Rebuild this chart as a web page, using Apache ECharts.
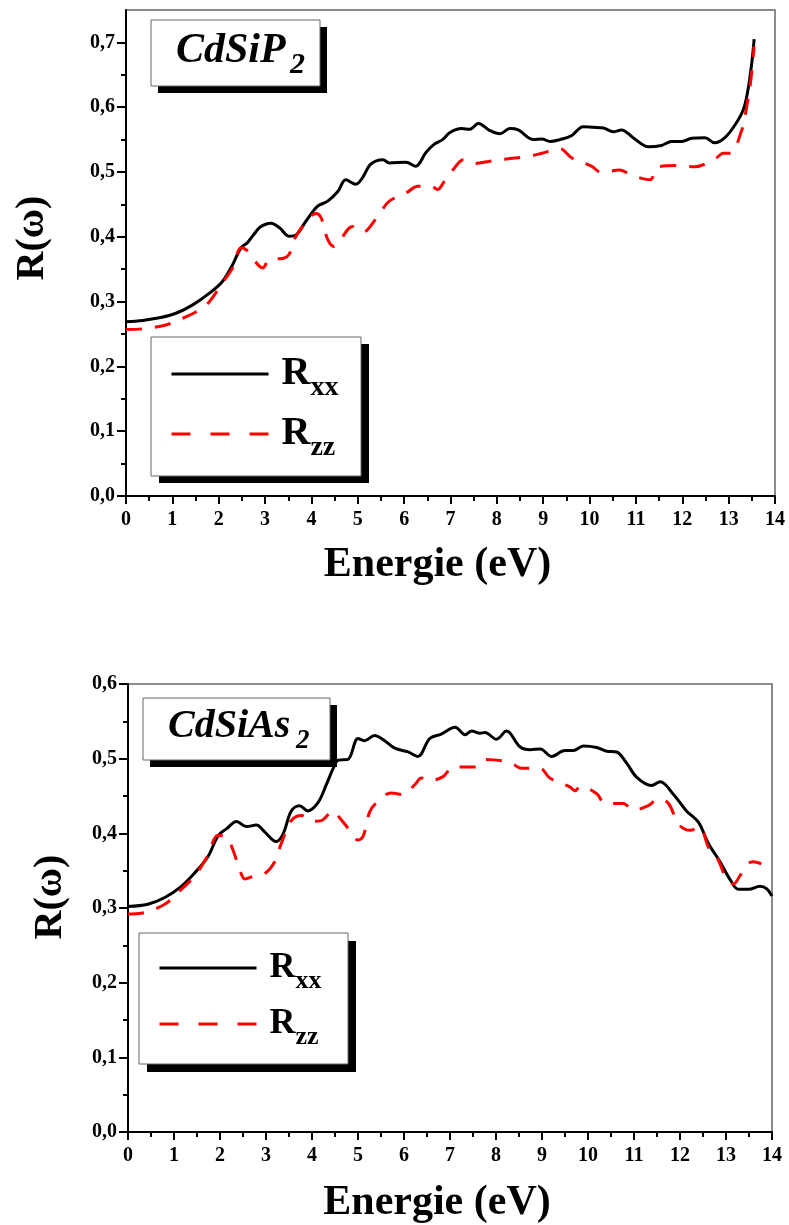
<!DOCTYPE html>
<html>
<head>
<meta charset="utf-8">
<script src="https://cdn.jsdelivr.net/npm/echarts@6/dist/echarts.min.js"></script>
<style>html,body{margin:0;padding:0;background:#fff}#c{width:789px;height:1225px}</style>
</head>
<body>
<div id="c"></div>
<script>
// ---- CdSiP2 ----
const energyP_xx = [0, 0.36, 0.72, 1.08, 1.44, 1.80, 2.08, 2.30, 2.48, 2.62, 2.75, 2.88, 3.0, 3.13, 3.31, 3.52, 3.67, 3.88, 4.13, 4.35, 4.57, 4.74, 4.96, 5.10, 5.28, 5.54, 5.68, 6.04, 6.25, 6.47, 6.65, 6.83, 6.99, 7.24, 7.42, 7.60, 7.85, 8.07, 8.28, 8.46, 8.79, 8.97, 9.15, 9.36, 9.61, 9.86, 10.08, 10.30, 10.51, 10.69, 10.94, 11.27, 11.55, 11.77, 11.99, 12.20, 12.49, 12.70, 12.92, 13.14, 13.32, 13.42, 13.50, 13.55];
const rP_xx = [0.269, 0.271, 0.275, 0.282, 0.295, 0.313, 0.331, 0.357, 0.383, 0.391, 0.403, 0.414, 0.419, 0.421, 0.414, 0.401, 0.403, 0.424, 0.447, 0.455, 0.470, 0.488, 0.481, 0.491, 0.512, 0.519, 0.514, 0.515, 0.509, 0.530, 0.543, 0.550, 0.561, 0.567, 0.566, 0.575, 0.564, 0.559, 0.567, 0.565, 0.550, 0.551, 0.547, 0.550, 0.556, 0.570, 0.569, 0.568, 0.562, 0.565, 0.553, 0.539, 0.541, 0.547, 0.547, 0.552, 0.553, 0.545, 0.553, 0.573, 0.597, 0.628, 0.669, 0.705];
const energyP_zz = [0, 0.36, 0.86, 1.15, 1.58, 1.80, 2.08, 2.30, 2.48, 2.59, 2.70, 2.95, 3.09, 3.24, 3.40, 3.52, 3.63, 3.92, 4.10, 4.21, 4.35, 4.49, 4.60, 4.89, 5.10, 5.21, 5.50, 5.68, 6.07, 6.29, 6.58, 6.72, 6.87, 7.05, 7.28, 7.49, 7.89, 8.21, 8.75, 8.97, 9.36, 9.61, 10.04, 10.26, 10.65, 10.91, 11.30, 11.48, 11.95, 12.27, 12.74, 12.88, 13.03, 13.28, 13.39, 13.48, 13.55];
const rP_zz = [0.257, 0.258, 0.264, 0.272, 0.287, 0.300, 0.329, 0.352, 0.383, 0.380, 0.370, 0.352, 0.365, 0.366, 0.367, 0.373, 0.396, 0.427, 0.436, 0.429, 0.396, 0.385, 0.393, 0.416, 0.407, 0.411, 0.439, 0.455, 0.469, 0.478, 0.478, 0.473, 0.486, 0.503, 0.519, 0.513, 0.517, 0.520, 0.525, 0.529, 0.536, 0.522, 0.509, 0.499, 0.503, 0.495, 0.488, 0.508, 0.510, 0.508, 0.522, 0.529, 0.529, 0.564, 0.601, 0.643, 0.694];
// ---- CdSiAs2 ----
const energyAs_xx = [0, 0.43, 0.80, 1.16, 1.45, 1.74, 1.96, 2.14, 2.36, 2.57, 2.79, 2.97, 3.22, 3.37, 3.55, 3.73, 3.91, 4.13, 4.31, 4.46, 4.57, 4.78, 5.00, 5.14, 5.36, 5.58, 5.80, 6.09, 6.30, 6.56, 6.81, 7.11, 7.33, 7.47, 7.65, 7.76, 8.01, 8.23, 8.52, 8.74, 8.96, 9.21, 9.50, 9.68, 9.90, 10.19, 10.41, 10.62, 10.84, 11.06, 11.38, 11.57, 11.86, 12.14, 12.40, 12.62, 12.87, 13.09, 13.27, 13.49, 13.74, 13.88, 14.0];
const rAs_xx = [0.302, 0.305, 0.314, 0.329, 0.347, 0.369, 0.397, 0.406, 0.416, 0.409, 0.411, 0.402, 0.389, 0.399, 0.430, 0.437, 0.430, 0.441, 0.465, 0.487, 0.498, 0.499, 0.527, 0.524, 0.531, 0.524, 0.514, 0.509, 0.503, 0.527, 0.533, 0.542, 0.532, 0.537, 0.534, 0.535, 0.526, 0.537, 0.516, 0.512, 0.513, 0.503, 0.511, 0.511, 0.517, 0.515, 0.510, 0.509, 0.494, 0.475, 0.464, 0.469, 0.452, 0.430, 0.415, 0.386, 0.362, 0.338, 0.325, 0.325, 0.329, 0.326, 0.316];
const energyAs_zz = [0, 0.29, 0.80, 1.09, 1.45, 1.74, 1.95, 2.14, 2.28, 2.43, 2.54, 2.75, 2.97, 3.19, 3.33, 3.55, 3.77, 3.99, 4.20, 4.46, 4.60, 4.82, 5.00, 5.11, 5.25, 5.40, 5.72, 5.98, 6.23, 6.38, 6.52, 6.85, 7.07, 7.54, 7.76, 8.30, 8.56, 8.96, 9.17, 9.61, 9.72, 9.83, 10.19, 10.37, 10.77, 10.98, 11.31, 11.53, 11.75, 11.97, 12.22, 12.43, 12.62, 12.80, 13.02, 13.16, 13.30, 13.45, 13.59, 13.77];
const rAs_zz = [0.292, 0.293, 0.305, 0.321, 0.343, 0.371, 0.397, 0.395, 0.378, 0.351, 0.339, 0.343, 0.346, 0.362, 0.386, 0.417, 0.424, 0.416, 0.417, 0.430, 0.421, 0.404, 0.391, 0.396, 0.428, 0.441, 0.454, 0.452, 0.465, 0.474, 0.470, 0.476, 0.489, 0.489, 0.499, 0.495, 0.487, 0.487, 0.474, 0.462, 0.457, 0.463, 0.453, 0.440, 0.440, 0.431, 0.437, 0.446, 0.440, 0.412, 0.404, 0.408, 0.381, 0.368, 0.338, 0.332, 0.343, 0.358, 0.362, 0.359];

const xTicks = [0, 14, 1];          // min, max, interval
const yTicksTop = [0, 0.75, 0.1];
const yTicksBottom = [0, 0.6, 0.1];
const yMajorTop = [0, 0.1, 0.2, 0.3, 0.4, 0.5, 0.6, 0.7];
const titles = ['CdSiP', 'CdSiAs'];
const titleSub = '2';
const seriesNames = ['Rxx', 'Rzz'];

const zip = (xs, ys) => xs.map((x, i) => [x, ys[i]]);
const yMinorTop = yMajorTop.map(v => +(v + yTicksTop[2] / 2).toFixed(2)).filter(v => v < yTicksTop[1]);
const FONT = 'Liberation Serif';
const fmt = v => v.toFixed(1).replace('.', ',');

function xAxis(gi, gap) {
  return {
    type: 'value', gridIndex: gi, min: xTicks[0], max: xTicks[1], interval: xTicks[2],
    name: 'Energie (eV)', nameLocation: 'middle', nameGap: gap,
    nameTextStyle: { fontFamily: FONT, fontWeight: 'bold', fontSize: 42, color: '#000', padding: [0, 26, 0, 0] },
    axisLine: { onZero: false, lineStyle: { color: '#000', width: 2 } },
    axisTick: { length: 8, lineStyle: { color: '#000', width: 2 } },
    minorTick: { show: true, splitNumber: 2, length: 5, lineStyle: { color: '#000', width: 2 } },
    splitLine: { show: false },
    axisLabel: { margin: 14, fontFamily: FONT, fontWeight: 'bold', fontSize: 20, color: '#000' }
  };
}
function yAxis(gi, t, gap, shift, custom) {
  const ax = {
    type: 'value', gridIndex: gi, position: 'left', min: t[0], max: t[1], interval: t[2],
    name: 'R(ω)', nameLocation: 'middle', nameGap: gap,
    nameTextStyle: { fontFamily: FONT, fontWeight: 'bold', fontSize: 40, color: '#000', padding: [0, 0, 0, shift] },
    axisLine: { onZero: false, lineStyle: { color: '#000', width: 2 } },
    axisTick: { length: 9, lineStyle: { color: '#000', width: 2 } },
    minorTick: { show: !custom, splitNumber: 2, length: 5, lineStyle: { color: '#000', width: 2 } },
    splitLine: { show: false },
    axisLabel: { margin: 11, fontFamily: FONT, fontWeight: 'bold', fontSize: 20, color: '#000', formatter: fmt }
  };
  if (custom) {
    ax.axisTick.customValues = custom;
    ax.axisLabel.customValues = custom;
  }
  return ax;
}
function line(name, gi, data, color, dashed) {
  return {
    name, type: 'line', xAxisIndex: gi, yAxisIndex: gi, data,
    symbol: 'none', showSymbol: false, smooth: 0.35, clip: true,
    lineStyle: { color, width: 3, type: dashed ? [16, 13] : 'solid' },
    itemStyle: { color }
  };
}
function legend(left, top, padTop, gap, big, small, shiftR, lh) {
  return {
    orient: 'vertical', left, top, padding: [padTop, 5, 5, 19], itemGap: gap, itemWidth: 97, itemHeight: 20,
    backgroundColor: 'transparent', borderWidth: 0,
    itemStyle: { color: 'rgba(0,0,0,0)', borderWidth: 0 },
    lineStyle: { width: 3 },
    data: [
      { name: seriesNames[0] },
      { name: seriesNames[1], lineStyle: { type: [19, 20], width: 3 } }
    ],
    formatter: n => '{r|R}{s|' + n.slice(1) + '}',
    textStyle: {
      rich: {
        r: { fontFamily: FONT, fontWeight: 'bold', fontSize: big, color: '#000', lineHeight: lh, padding: [shiftR, 0, shiftR, 8] },
        s: { fontFamily: FONT, fontWeight: 'bold', fontSize: small, color: '#000', lineHeight: lh, padding: [2 * shiftR, 0, 0, 0] }
      }
    }
  };
}
function box(x, y, w, h, dx, dy) {
  return [
    { type: 'rect', z: 3, silent: true, shape: { x: x + dx, y: y + dy, width: w, height: h }, style: { fill: '#000' } },
    { type: 'rect', z: 3, silent: true, shape: { x, y, width: w, height: h }, style: { fill: '#fff', stroke: '#666', lineWidth: 1 } }
  ];
}
function titleText(txt, x, cy, big, subX, subCy, small) {
  return [
    { type: 'text', z: 4, silent: true, style: { text: txt, x, y: cy, fill: '#000', font: 'italic bold ' + big + 'px "' + FONT + '"', textAlign: 'left', textVerticalAlign: 'middle' } },
    { type: 'text', z: 4, silent: true, style: { text: titleSub, x: subX, y: subCy, fill: '#000', font: 'italic bold ' + small + 'px "' + FONT + '"', textAlign: 'left', textVerticalAlign: 'middle' } }
  ];
}

const chart = echarts.init(document.getElementById('c'), null, { renderer: 'canvas' });
chart.setOption({
  backgroundColor: '#fff',
  animation: false,
  graphic: {
    elements: [].concat(
      box(151, 20, 169, 66, 7, 7),
      titleText(titles[0], 176, 51, 42, 290, 65, 30),
      box(143, 698, 187, 62, 7, 7),
      titleText(titles[1], 168, 727, 40, 296, 741, 27),
      box(151, 337, 210, 139, 8, 7),
      box(139, 933, 209, 131, 8, 8)
    )
  },
  legend: [
    legend(151, 337, 3, -8, 40, 28, 14, 30),
    legend(139, 933, 4, -6, 36, 26, 13, 28)
  ],
  grid: [
    { left: 126, top: 10, width: 649, height: 486, show: true, borderColor: '#666', borderWidth: 1.5, backgroundColor: 'transparent' },
    { left: 128, top: 684, width: 644, height: 457, show: true, borderColor: '#666', borderWidth: 1.5, backgroundColor: 'transparent' }
  ],
  xAxis: [xAxis(0, 48), xAxis(1, 50)],
  yAxis: [
    yAxis(0, yTicksTop, 73, 30, yMajorTop),
    yAxis(1, yTicksBottom, 57, 22, null),
    {
      type: 'value', gridIndex: 0, position: 'left', offset: 0, min: yTicksTop[0], max: yTicksTop[1], interval: yTicksTop[2],
      axisLine: { show: false, onZero: false }, axisLabel: { show: false }, splitLine: { show: false },
      axisTick: { show: true, inside: false, length: 5, customValues: yMinorTop, lineStyle: { color: '#000', width: 2 } }
    }
  ],
  series: [
    line(seriesNames[0], 0, zip(energyP_xx, rP_xx), '#000', false),
    line(seriesNames[1], 0, zip(energyP_zz, rP_zz), '#ff0000', true),
    line(seriesNames[0], 1, zip(energyAs_xx, rAs_xx), '#000', false),
    line(seriesNames[1], 1, zip(energyAs_zz, rAs_zz), '#ff0000', true)
  ]
});
</script>
</body>
</html>
